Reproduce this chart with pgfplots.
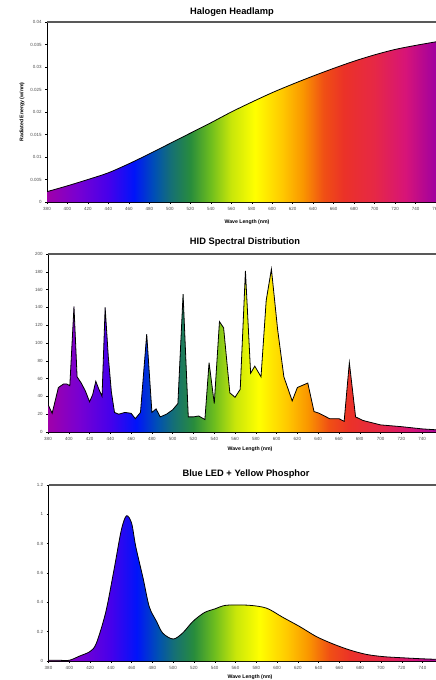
\documentclass[border=0pt]{standalone}
\usepackage{fontspec}
\setmainfont{Liberation Sans}
\usepackage{pgfplots}
\pgfplotsset{compat=1.18}
\usepackage{pgfplotstable}

% spectrum colours, 380 nm ... 760 nm
\definecolor{s380}{RGB}{160,0,170}
\definecolor{s410}{RGB}{120,0,210}
\definecolor{s440}{RGB}{70,0,235}
\definecolor{s465}{RGB}{0,20,250}
\definecolor{s485}{RGB}{0,80,180}
\definecolor{s500}{RGB}{20,110,120}
\definecolor{s520}{RGB}{40,140,60}
\definecolor{s540}{RGB}{110,190,30}
\definecolor{s560}{RGB}{200,230,10}
\definecolor{s583}{RGB}{255,255,0}
\definecolor{s610}{RGB}{255,200,0}
\definecolor{s630}{RGB}{250,150,0}
\definecolor{s650}{RGB}{240,80,20}
\definecolor{s670}{RGB}{235,50,40}
\definecolor{s700}{RGB}{230,40,70}
\definecolor{s730}{RGB}{215,20,120}
\definecolor{s760}{RGB}{160,0,160}

% 25bp..75bp of the shading is stretched over the path's width (380..760)
\pgfdeclarehorizontalshading{spectrum}{100bp}{color(0bp)=(s380); color(25bp)=(s380);
  color(28.95bp)=(s410); color(32.89bp)=(s440); color(36.18bp)=(s465);
  color(38.82bp)=(s485); color(40.79bp)=(s500); color(43.42bp)=(s520);
  color(46.05bp)=(s540); color(48.68bp)=(s560); color(51.71bp)=(s583);
  color(55.26bp)=(s610); color(57.89bp)=(s630); color(60.53bp)=(s650);
  color(63.16bp)=(s670); color(67.11bp)=(s700); color(71.05bp)=(s730);
  color(75bp)=(s760); color(100bp)=(s760)}

\pgfplotstableread{
nm val
380 0.0023
400 0.0036
420 0.0050
440 0.0065
460 0.0085
480 0.0107
500 0.0130
520 0.0153
540 0.0176
560 0.0200
580 0.0222
600 0.0243
620 0.0262
640 0.0280
660 0.0297
680 0.0313
700 0.0327
720 0.0339
740 0.0348
760 0.0356
}\halogen

\pgfplotstableread{
nm val
380 31
384 21
390 50
395 54
398 54
401 52
405 141
408 62
412 55
416 46
420 34
423 42
426 57
429 48
432 40
435 140
438 85
441 45
444 22
448 20
454 22
460 21
464 15
469 22
475 110
480 22
484 26
488 17
494 20
500 25
505 32
510 155
515 17
520 17
525 18
531 14
535 78
540 32
545 124
549 117
555 44
560 39
565 48
570 181
575 66
579 74
585 62
590 148
595 183
601 115
607 62
615 35
620 50
630 55
636 23
641 21
651 15
660 15
665 12
670 78
676 17
683 13
700 8
720 6
740 3.5
760 2
}\hid

\pgfplotstableread{
nm val
380 0.005
390 0.005
400 0.005
410 0.034
420 0.065
426 0.12
435 0.33
443 0.62
450 0.89
455 0.99
460 0.94
464 0.78
471 0.566
477 0.37
484 0.27
490 0.19
500 0.15
509 0.19
519 0.27
530 0.33
540 0.355
551 0.38
573 0.38
590 0.36
605 0.30
622 0.234
638 0.166
654 0.116
670 0.075
686 0.045
702 0.03
718 0.023
740 0.015
760 0.01
}\led

\pgfplotsset{
  spec/.style={
    scale only axis, anchor=south west,
    xmin=380, ymin=0,
    axis x line*=bottom, axis y line*=left,
    axis line style={-, black, line width=0.7pt},
    xtick={380,400,...,760},
    tick align=outside, major tick length=1.8pt,
    tick style={black, line width=0.4pt},
    ticklabel style={font=\fontsize{4.5}{5}\selectfont, text=black!70},
    /pgf/number format/assume math mode=true,
    scaled y ticks=false,
  },
  area/.style={draw=none, shading=spectrum, shade},
  curve/.style={black, line width=0.8pt},
}

\newcommand{\ttl}[1]{\fontsize{9.3}{10}\selectfont\bfseries #1}
\newcommand{\lbl}{\fontsize{5.2}{6}\selectfont\bfseries}

\begin{document}
\begin{tikzpicture}
\useasboundingbox (0,0) rectangle (436pt,-680pt);

% Halogen
\begin{axis}[spec, name=top, at={(47pt,-202pt)}, width=389pt, height=180pt,
  xmax=760, ymax=0.04, ytick={0,0.005,...,0.04},
  yticklabel style={/pgf/number format/fixed, /pgf/number format/precision=3}]
  \addplot[area, smooth] table {\halogen} \closedcycle;
  \addplot[curve, smooth] table {\halogen};
\end{axis}
\draw[black!65, line width=1.2pt] (top.north west) -- (top.north east);

% HID
\begin{axis}[spec, name=mid, at={(48pt,-432pt)}, width=388pt, height=178pt,
  xmax=753.4, ymax=200, ytick={0,20,...,200}]
  \addplot[area] table {\hid} \closedcycle;
  \addplot[curve] table {\hid};
\end{axis}
\draw[black!65, line width=1.2pt] (mid.north west) -- (mid.north east);

% LED
\begin{axis}[spec, name=bot, at={(48.5pt,-661pt)}, width=387.5pt, height=176pt,
  xmax=753, ymax=1.2, ytick={0,0.2,...,1.2}]
  \addplot[area, smooth] table {\led} \closedcycle;
  \addplot[curve, smooth] table {\led};
\end{axis}
\draw[black!65, line width=1.2pt] (bot.north west) -- (bot.north east);

\node at (232pt,-12pt) {\ttl{Halogen Headlamp}};
\node at (245pt,-242pt) {\ttl{HID Spectral Distribution}};
\node at (246pt,-474pt) {\ttl{Blue LED + Yellow Phosphor}};

\node[rotate=90] at (22pt,-112pt) {\lbl Radiated Energy (w/nm)};
\node at (247pt,-222pt) {\lbl Wave Length (nm)};
\node at (250pt,-449pt) {\lbl Wave Length (nm)};
\node at (250pt,-677pt) {\lbl Wave Length (nm)};
\end{tikzpicture}
\end{document}
